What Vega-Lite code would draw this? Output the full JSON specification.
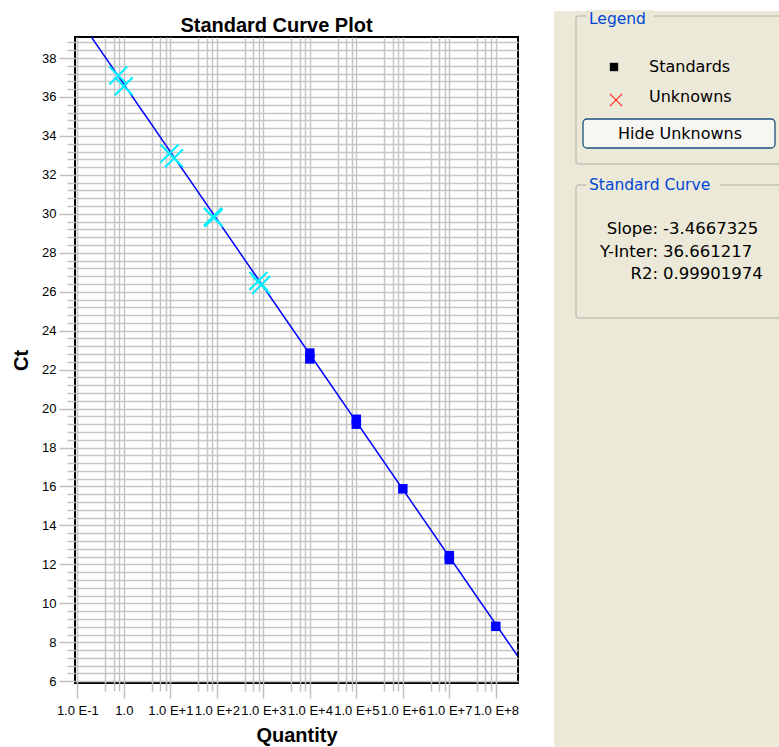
{
  "$schema": "https://vega.github.io/schema/vega-lite/v6.json",
  "background": "white",
  "padding": {"left": 10, "top": 10, "right": 0, "bottom": 0},
  "spacing": 34,
  "config": {"view": {"stroke": null}, "font": "Liberation Sans"},
  "datasets": {
    "points": [
      {"quantity": 10000, "ct": 22.55, "type": "Standard"},
      {"quantity": 10000, "ct": 22.85, "type": "Standard"},
      {"quantity": 100000, "ct": 19.2, "type": "Standard"},
      {"quantity": 100000, "ct": 19.45, "type": "Standard"},
      {"quantity": 1000000, "ct": 15.88, "type": "Standard"},
      {"quantity": 10000000, "ct": 12.25, "type": "Standard"},
      {"quantity": 10000000, "ct": 12.45, "type": "Standard"},
      {"quantity": 100000000, "ct": 8.82, "type": "Standard"},
      {"quantity": 0.76, "ct": 37.1, "type": "Unknown"},
      {"quantity": 1.0, "ct": 36.55, "type": "Unknown"},
      {"quantity": 9.6, "ct": 33.1, "type": "Unknown"},
      {"quantity": 12.0, "ct": 32.85, "type": "Unknown"},
      {"quantity": 82, "ct": 29.85, "type": "Unknown"},
      {"quantity": 86, "ct": 29.8, "type": "Unknown"},
      {"quantity": 780, "ct": 26.55, "type": "Unknown"},
      {"quantity": 900, "ct": 26.35, "type": "Unknown"}
    ],
    "fit": [
      {"quantity": 0.195, "ct": 39.12},
      {"quantity": 290000000, "ct": 7.32}
    ],
    "legendItems": [
      {"series": "Standards"},
      {"series": "Unknowns"}
    ],
    "stats": [
      {"label": "Slope:", "value": "-3.4667325"},
      {"label": "Y-Inter:", "value": "36.661217"},
      {"label": "R2:", "value": "0.99901974"}
    ]
  },
  "hconcat": [
    {
      "width": 443,
      "height": 646,
      "title": {"text": "Standard Curve Plot", "fontSize": 20, "fontWeight": "bold", "font": "Liberation Sans", "offset": 0, "dx": -20, "color": "black"},
      "view": {"stroke": "black", "strokeWidth": 2},
      "layer": [
        {
          "data": {"name": "fit"},
          "mark": {"type": "line", "color": "#0000ff", "strokeWidth": 1.5, "clip": true},
          "encoding": {
            "x": {
              "field": "quantity", "type": "quantitative",
              "scale": {"type": "log", "domain": [0.0891, 300000000], "nice": false},
              "axis": {
                "title": "Quantity", "titleFontSize": 20, "titleFont": "Liberation Sans", "titleFontWeight": "bold", "titleColor": "black", "titlePadding": 8,
                "values": [0.1, 0.4, 0.6, 0.8, 1, 4, 6, 8, 10, 40, 60, 80, 100, 400, 600, 800, 1000, 4000, 6000, 8000, 10000, 40000, 60000, 80000, 100000, 400000, 600000, 800000, 1000000, 4000000, 6000000, 8000000, 10000000, 40000000, 60000000, 80000000, 100000000],
                "tickCount": 500,
                "labelExpr": "abs(log(datum.value)/LN10 - round(log(datum.value)/LN10)) < 0.001 ? (round(log(datum.value)/LN10) == 0 ? '1.0' : '1.0 E' + (datum.value > 1 ? '+' : '') + round(log(datum.value)/LN10)) : ''",
                "labelFontSize": 13, "labelColor": "black", "labelFont": "Liberation Sans",
                "labelOverlap": false, "labelBound": false, "labelFlush": false, "labelPadding": 6,
                "domain": false, "grid": true, "gridColor": "#c6c6c6", "gridWidth": 1.5, "gridOpacity": 1,
                "ticks": true, "tickColor": "#c0c0c0", "tickWidth": 1.5,
                "tickSize": {"condition": {"test": "abs(log(datum.value)/LN10 - round(log(datum.value)/LN10)) < 0.001", "value": 15}, "value": 8}
              }
            },
            "y": {
              "field": "ct", "type": "quantitative",
              "scale": {"domain": [5.91, 39.08], "nice": false, "zero": false},
              "axis": {
                "title": "Ct", "titleFontSize": 20, "titleFont": "Liberation Sans", "titleFontWeight": "bold", "titleColor": "black", "titlePadding": 10,
                "values": [6, 6.4, 6.8, 7.2, 7.6, 8, 8.4, 8.8, 9.2, 9.6, 10, 10.4, 10.8, 11.2, 11.6, 12, 12.4, 12.8, 13.2, 13.6, 14, 14.4, 14.8, 15.2, 15.6, 16, 16.4, 16.8, 17.2, 17.6, 18, 18.4, 18.8, 19.2, 19.6, 20, 20.4, 20.8, 21.2, 21.6, 22, 22.4, 22.8, 23.2, 23.6, 24, 24.4, 24.8, 25.2, 25.6, 26, 26.4, 26.8, 27.2, 27.6, 28, 28.4, 28.8, 29.2, 29.6, 30, 30.4, 30.8, 31.2, 31.6, 32, 32.4, 32.8, 33.2, 33.6, 34, 34.4, 34.8, 35.2, 35.6, 36, 36.4, 36.8, 37.2, 37.6, 38, 38.4, 38.8],
                "tickCount": 500,
                "labelExpr": "abs(datum.value - round(datum.value)) < 0.01 ? '' + round(datum.value) : ''",
                "labelFontSize": 13, "labelColor": "black", "labelFont": "Liberation Sans",
                "labelOverlap": false, "labelBound": false, "labelFlush": false, "labelPadding": 3,
                "domain": false, "grid": true, "gridColor": "#c6c6c6", "gridWidth": 1.5, "gridOpacity": 1,
                "ticks": true, "tickColor": "#c0c0c0", "tickWidth": 1.5,
                "tickSize": {"condition": {"test": "abs(datum.value - round(datum.value)) < 0.01", "value": 16}, "value": 8}
              }
            }
          }
        },
        {
          "data": {"name": "points"},
          "transform": [{"filter": "datum.type === 'Standard'"}],
          "mark": {"type": "point", "shape": "square", "filled": true, "color": "#0000ff", "size": 90, "opacity": 1},
          "encoding": {
            "x": {"field": "quantity", "type": "quantitative"},
            "y": {"field": "ct", "type": "quantitative"}
          }
        },
        {
          "data": {"name": "points"},
          "transform": [{"filter": "datum.type === 'Unknown'"}],
          "mark": {"type": "point", "shape": "M-1,-1L1,1M-1,1L1,-1", "filled": false, "color": "#00f0ff", "size": 324, "strokeWidth": 2, "opacity": 1},
          "encoding": {
            "x": {"field": "quantity", "type": "quantitative"},
            "y": {"field": "ct", "type": "quantitative"}
          }
        }
      ]
    },
    {
      "width": 226,
      "height": 711,
      "resolve": {"scale": {"y": "independent"}},
      "layer": [
        {
          "data": {"values": [{}]},
          "layer": [
            {
              "mark": {"type": "rect", "color": "#ece9d8"},
              "encoding": {
                "x": {"datum": 553, "type": "quantitative", "scale": {"domain": [553, 779], "nice": false, "zero": false}, "axis": null},
                "x2": {"datum": 800},
                "y": {"datum": 10, "type": "quantitative", "scale": {"domain": [36, 747], "reverse": true, "nice": false, "zero": false}, "axis": null},
                "y2": {"datum": 760}
              }
            },
            {
              "mark": {"type": "rect", "filled": false, "stroke": "#c4c2b4", "strokeWidth": 1.5, "cornerRadius": 3},
              "encoding": {
                "x": {"datum": 575, "type": "quantitative", "scale": {"domain": [553, 779], "nice": false, "zero": false}, "axis": null},
                "x2": {"datum": 800},
                "y": {"datum": 15, "type": "quantitative", "scale": {"domain": [36, 747], "reverse": true, "nice": false, "zero": false}, "axis": null},
                "y2": {"datum": 163}
              }
            },
            {
              "mark": {"type": "rect", "color": "#ece9d8"},
              "encoding": {
                "x": {"datum": 585, "type": "quantitative", "scale": {"domain": [553, 779], "nice": false, "zero": false}, "axis": null},
                "x2": {"datum": 653},
                "y": {"datum": 9, "type": "quantitative", "scale": {"domain": [36, 747], "reverse": true, "nice": false, "zero": false}, "axis": null},
                "y2": {"datum": 26}
              }
            },
            {
              "mark": {"type": "text", "text": "Legend", "align": "left", "baseline": "middle", "font": "DejaVu Sans", "fontSize": 15.5, "color": "#0046d5"},
              "encoding": {
                "x": {"datum": 588, "type": "quantitative", "scale": {"domain": [553, 779], "nice": false, "zero": false}, "axis": null},
                "y": {"datum": 18, "type": "quantitative", "scale": {"domain": [36, 747], "reverse": true, "nice": false, "zero": false}, "axis": null}
              }
            },
            {
              "mark": {"type": "rect", "fill": "#f6f6f2", "stroke": "#1c5180", "strokeWidth": 1.3, "cornerRadius": 4},
              "encoding": {
                "x": {"datum": 582, "type": "quantitative", "scale": {"domain": [553, 779], "nice": false, "zero": false}, "axis": null},
                "x2": {"datum": 774},
                "y": {"datum": 118, "type": "quantitative", "scale": {"domain": [36, 747], "reverse": true, "nice": false, "zero": false}, "axis": null},
                "y2": {"datum": 147}
              }
            },
            {
              "mark": {"type": "text", "text": "Hide Unknowns", "align": "center", "baseline": "middle", "font": "DejaVu Sans", "fontSize": 16, "color": "black"},
              "encoding": {
                "x": {"datum": 679, "type": "quantitative", "scale": {"domain": [553, 779], "nice": false, "zero": false}, "axis": null},
                "y": {"datum": 132.5, "type": "quantitative", "scale": {"domain": [36, 747], "reverse": true, "nice": false, "zero": false}, "axis": null}
              }
            },
            {
              "mark": {"type": "rect", "filled": false, "stroke": "#c4c2b4", "strokeWidth": 1.5, "cornerRadius": 3},
              "encoding": {
                "x": {"datum": 575, "type": "quantitative", "scale": {"domain": [553, 779], "nice": false, "zero": false}, "axis": null},
                "x2": {"datum": 800},
                "y": {"datum": 184, "type": "quantitative", "scale": {"domain": [36, 747], "reverse": true, "nice": false, "zero": false}, "axis": null},
                "y2": {"datum": 317}
              }
            },
            {
              "mark": {"type": "rect", "color": "#ece9d8"},
              "encoding": {
                "x": {"datum": 585, "type": "quantitative", "scale": {"domain": [553, 779], "nice": false, "zero": false}, "axis": null},
                "x2": {"datum": 719},
                "y": {"datum": 176, "type": "quantitative", "scale": {"domain": [36, 747], "reverse": true, "nice": false, "zero": false}, "axis": null},
                "y2": {"datum": 193}
              }
            },
            {
              "mark": {"type": "text", "text": "Standard Curve", "align": "left", "baseline": "middle", "font": "DejaVu Sans", "fontSize": 15.5, "color": "#0046d5"},
              "encoding": {
                "x": {"datum": 588, "type": "quantitative", "scale": {"domain": [553, 779], "nice": false, "zero": false}, "axis": null},
                "y": {"datum": 184, "type": "quantitative", "scale": {"domain": [36, 747], "reverse": true, "nice": false, "zero": false}, "axis": null}
              }
            }
          ]
        },
        {
          "data": {"name": "legendItems"},
          "layer": [
            {
              "transform": [{"filter": "datum.series === 'Standards'"}],
              "mark": {"type": "point", "shape": "square", "filled": true, "color": "black", "size": 70, "opacity": 1},
              "encoding": {
                "x": {"datum": 613, "type": "quantitative", "scale": {"domain": [553, 779], "nice": false, "zero": false}, "axis": null},
                "y": {"field": "series", "type": "nominal", "scale": {"domain": ["Standards", "Unknowns"], "range": [30, 60], "padding": 0}, "axis": null}
              }
            },
            {
              "transform": [{"filter": "datum.series === 'Unknowns'"}],
              "mark": {"type": "point", "shape": "M-1,-1L1,1M-1,1L1,-1", "filled": false, "color": "#ff2a2a", "size": 150, "strokeWidth": 1.3, "opacity": 1, "yOffset": 3},
              "encoding": {
                "x": {"datum": 615, "type": "quantitative", "scale": {"domain": [553, 779], "nice": false, "zero": false}, "axis": null},
                "y": {"field": "series", "type": "nominal", "scale": {"domain": ["Standards", "Unknowns"], "range": [30, 60], "padding": 0}, "axis": null}
              }
            },
            {
              "mark": {"type": "text", "align": "left", "baseline": "middle", "font": "DejaVu Sans", "fontSize": 16, "color": "black"},
              "encoding": {
                "x": {"datum": 648, "type": "quantitative", "scale": {"domain": [553, 779], "nice": false, "zero": false}, "axis": null},
                "y": {"field": "series", "type": "nominal", "scale": {"domain": ["Standards", "Unknowns"], "range": [30, 60], "padding": 0}, "axis": null},
                "text": {"field": "series"}
              }
            }
          ]
        },
        {
          "data": {"name": "stats"},
          "layer": [
            {
              "mark": {"type": "text", "align": "right", "baseline": "middle", "font": "DejaVu Sans", "fontSize": 16.5, "color": "black"},
              "encoding": {
                "x": {"datum": 657, "type": "quantitative", "scale": {"domain": [553, 779], "nice": false, "zero": false}, "axis": null},
                "y": {"field": "label", "type": "nominal", "sort": null, "scale": {"domain": ["Slope:", "Y-Inter:", "R2:"], "range": [192, 237], "padding": 0}, "axis": null},
                "text": {"field": "label"}
              }
            },
            {
              "mark": {"type": "text", "align": "left", "baseline": "middle", "font": "DejaVu Sans", "fontSize": 16.5, "color": "black"},
              "encoding": {
                "x": {"datum": 662, "type": "quantitative", "scale": {"domain": [553, 779], "nice": false, "zero": false}, "axis": null},
                "y": {"field": "label", "type": "nominal", "sort": null, "scale": {"domain": ["Slope:", "Y-Inter:", "R2:"], "range": [192, 237], "padding": 0}, "axis": null},
                "text": {"field": "value"}
              }
            }
          ]
        }
      ]
    }
  ]
}
